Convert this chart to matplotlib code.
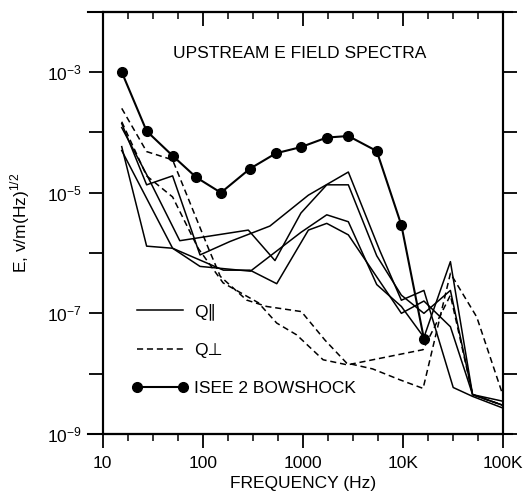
import matplotlib
matplotlib.use("Agg")
import matplotlib.pyplot as plt
from matplotlib.lines import Line2D

plt.rcParams['font.family'] = ['Liberation Sans', 'DejaVu Sans']

# ISEE 2 bowshock spectrum
bow_f = [15.5, 27.5, 50, 86, 152, 297, 540, 960, 1740, 2860, 5500, 9700, 16300]
bow_e = [1.0e-3, 1.05e-4, 4.1e-5, 1.8e-5, 1.0e-5, 2.5e-5, 4.5e-5, 5.7e-5, 8.2e-5, 8.7e-5, 4.9e-5, 2.9e-6, 3.8e-8]

# Q-parallel spectra (solid)
qpar_f1 = [15.5, 27.5, 50, 94, 187, 470, 1140, 2860, 5900, 9700, 16300, 32000, 50000, 100000]
qpar_e1 = [1.4e-4, 1.35e-5, 1.9e-5, 9.3e-7, 1.55e-6, 2.8e-6, 9.1e-6, 2.2e-5, 1.1e-6, 1.65e-7, 2.4e-7, 5.9e-9, 4.2e-9, 2.7e-9]
qpar_f2 = [15.5, 27.5, 59, 286, 528, 960, 1740, 2860, 5500, 9700, 16300, 30000, 50000, 100000]
qpar_e2 = [1.2e-4, 2.0e-5, 1.6e-6, 2.4e-6, 7.5e-7, 4.6e-6, 1.35e-5, 1.35e-5, 9e-7, 2.0e-7, 1.0e-7, 2.4e-7, 4.5e-9, 3.0e-9]
qpar_f3 = [15.5, 27.5, 50, 161, 297, 550, 1140, 1740, 2860, 9700, 16300, 30000, 50000, 100000]
qpar_e3 = [5.8e-5, 1.3e-6, 1.2e-6, 5.2e-7, 5.2e-7, 3.1e-7, 2.4e-6, 3.1e-6, 2.0e-6, 1.0e-7, 1.6e-7, 6.0e-8, 4.5e-9, 3.0e-9]
qpar_f4 = [15.5, 50, 94, 300, 960, 1740, 2860, 5500, 9700, 16300, 30000, 50000, 100000]
qpar_e4 = [5.0e-5, 1.2e-6, 6e-7, 5e-7, 2.2e-6, 4.3e-6, 3.3e-6, 3e-7, 1.3e-7, 4e-8, 7.2e-7, 4.5e-9, 3.5e-9]

# Q-perpendicular spectra (dashed)
qperp_f1 = [15.5, 27.5, 50, 114, 150, 275, 437, 970, 1670, 2750, 5000, 9400, 16000, 30000, 55000, 100000]
qperp_e1 = [2.5e-4, 4.8e-5, 3.5e-5, 1.2e-6, 4.1e-7, 1.66e-7, 1.3e-7, 1.07e-7, 3.6e-8, 1.5e-8, 1.2e-8, 7.9e-9, 5.7e-9, 4.6e-7, 8.7e-8, 4.5e-9]
qperp_f2 = [15.5, 27.5, 50, 90, 160, 360, 550, 870, 1600, 2800, 16000, 30000, 50000, 100000]
qperp_e2 = [1.5e-4, 1.9e-5, 8.5e-6, 1.2e-6, 3.2e-7, 1.5e-7, 6.9e-8, 4.4e-8, 1.7e-8, 1.4e-8, 2.5e-8, 2.0e-7, 4.5e-9, 3.0e-9]

x_major = [10, 100, 1000, 1e4, 1e5]
x_labels = ['10', '100', '1000', '10K', '100K']

fig = plt.figure(figsize=(5.31, 4.98), dpi=100)
ax = fig.add_axes([0.1934, 0.1285, 0.7533, 0.848])

for f, e in [(qpar_f1, qpar_e1), (qpar_f2, qpar_e2), (qpar_f3, qpar_e3), (qpar_f4, qpar_e4)]:
    ax.plot(f, e, color='black', lw=1.1)
for f, e in [(qperp_f1, qperp_e1), (qperp_f2, qperp_e2)]:
    ax.plot(f, e, color='black', lw=1.1, dashes=(4, 2.5))
ax.plot(bow_f, bow_e, color='black', lw=1.5, marker='o', ms=7)

ax.set_xscale('log')
ax.set_yscale('log')
ax.set_xlim(10, 1e5)
ax.set_ylim(1e-9, 1e-2)

# ticks: quarter-decade minor ticks on x, decades on y
ax.set_xticks(x_major)
ax.set_xticklabels(x_labels)
minor = [10 ** (d + q) for d in range(1, 5) for q in (0.25, 0.5, 0.75)]
ax.set_xticks(minor, minor=True)
ax.set_xticklabels([], minor=True)
ax.set_yticks([10.0 ** k for k in range(-9, -1)])
ax.set_yticklabels(['$\\mathdefault{10^{-9}}$', '', '$\\mathdefault{10^{-7}}$', '',
                    '$\\mathdefault{10^{-5}}$', '', '$\\mathdefault{10^{-3}}$', ''])
ax.yaxis.set_minor_locator(matplotlib.ticker.NullLocator())
ax.tick_params(axis='x', which='major', direction='out', length=10, width=1.3, pad=6, labelsize=12.5)
ax.tick_params(axis='x', which='minor', direction='out', length=5, width=1.1)
ax.tick_params(axis='y', which='major', direction='out', length=10, width=1.3, pad=5,
               labelsize=12.5, right=True)

top = ax.twiny()
top.set_xscale('log')
top.set_xlim(ax.get_xlim())
top.set_xticks(x_major)
top.set_xticks(minor, minor=True)
top.tick_params(axis='x', which='major', direction='in', length=10, width=1.3, labeltop=False)
top.tick_params(axis='x', which='minor', direction='in', length=5, width=1.1)

for s in list(ax.spines.values()) + list(top.spines.values()):
    s.set_linewidth(1.5)

# extended top / bottom rules
for yy in (0, 1):
    ax.add_line(Line2D([-0.037, 1.024], [yy, yy], transform=ax.transAxes,
                       color='black', lw=1.5, clip_on=False))

ax.text(0.493, 0.902, 'UPSTREAM E FIELD SPECTRA', transform=ax.transAxes,
        ha='center', va='center', fontsize=12.5)

ax.set_xlabel('FREQUENCY (Hz)', fontsize=12.5)
ax.xaxis.set_label_coords(0.5, -0.1)
ax.set_ylabel('E, v/m(Hz)$^{\\mathdefault{1/2}}$', fontsize=12.5)
ax.yaxis.set_label_coords(-0.177, 0.5)

handles = [Line2D([], [], color='black', lw=1.1),
           Line2D([], [], color='black', lw=1.1, dashes=(4, 2.5)),
           Line2D([], [], color='black', lw=1.5, marker='o', ms=7)]
ax.legend(handles, ['Q\u2225', 'Q\u22a5', 'ISEE 2 BOWSHOCK'], loc='upper left',
          bbox_to_anchor=(0.073, 0.309), frameon=False, numpoints=2, fontsize=12.5,
          handlelength=3.24, labelspacing=1.3, handletextpad=0.35,
          borderpad=0, borderaxespad=0)

fig.savefig('out.png', dpi=100)
